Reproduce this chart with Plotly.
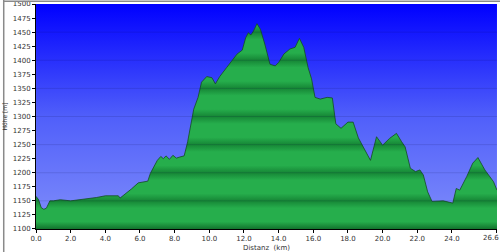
import plotly.graph_objects as go

dist_km = [0.0, 0.15, 0.3, 0.45, 0.6, 0.8, 1.0, 1.4, 2.0, 2.5, 3.0, 3.5, 4.0, 4.5, 4.75, 4.85,
           5.2, 5.5, 5.9, 6.2, 6.45, 6.6, 6.8, 7.0, 7.2, 7.35, 7.5, 7.7, 7.9, 8.1, 8.3, 8.55,
           8.75, 8.9, 9.1, 9.35, 9.55, 9.85, 10.15, 10.35, 10.6, 11.0, 11.3, 11.6, 11.9, 12.1,
           12.25, 12.4, 12.55, 12.75, 12.95, 13.2, 13.5, 13.8, 14.0, 14.3, 14.65, 14.95, 15.2,
           15.45, 15.7, 15.9, 16.1, 16.4, 16.8, 17.1, 17.3, 17.6, 18.0, 18.3, 18.6, 18.9, 19.3,
           19.65, 20.0, 20.4, 20.8, 21.1, 21.3, 21.6, 21.9, 22.15, 22.35, 22.6, 22.85, 23.5,
           24.05, 24.25, 24.45, 24.85, 25.2, 25.5, 25.9, 26.4, 26.6]
elev_m = [1158, 1152, 1138, 1135, 1137, 1150, 1150, 1152, 1150, 1152, 1153, 1156, 1159, 1159, 1159, 1155,
          1163, 1171, 1182, 1184, 1185, 1199, 1212, 1222, 1229, 1225, 1230, 1224, 1231, 1226, 1228, 1230,
          1255, 1282, 1313, 1334, 1361, 1371, 1369, 1358, 1371, 1387, 1399, 1411, 1418, 1440,
          1449, 1445, 1452, 1465, 1455, 1429, 1393, 1390, 1396, 1411, 1420, 1423, 1439,
          1423, 1387, 1367, 1334, 1331, 1334, 1333, 1287, 1279, 1290, 1290, 1262, 1246, 1222,
          1264, 1249, 1261, 1270, 1255, 1246, 1208, 1202, 1205, 1196, 1166, 1149, 1150,
          1146, 1172, 1169, 1193, 1217, 1227, 1205, 1184, 1169]

y_min, y_max = 1100, 1500
x_max = 26.6
y_ticks = list(range(1100, 1501, 25))
x_ticks = [0, 2, 4, 6, 8, 10, 12, 14, 16, 18, 20, 22, 24, 26.6]
x_labels = ["0.0", "2.0", "4.0", "6.0", "8.0", "10.0", "12.0", "14.0", "16.0", "18.0",
            "20.0", "22.0", "24.0", ""]
end_label = "26.6"

# green banded colorscale: darker at every 50 m
dark, light = "rgb(22,134,54)", "rgb(38,174,76)"
gscale = []
for base in range(y_min, y_max, 50):
    f = lambda v: (v - y_min) / (y_max - y_min)
    gscale.append([f(base), dark])
    gscale.append([f(base + 13), light])
    gscale.append([f(base + 37), light])
gscale.append([1.0, dark])
gscale[0] = [0.0, "rgb(18,115,45)"]

fig = go.Figure()
# blue gradient background
fig.add_trace(go.Scatter(
    x=[0, x_max, x_max, 0, 0], y=[y_min, y_min, y_max, y_max, y_min],
    mode="none", fill="toself",
    fillgradient=dict(type="vertical", start=y_min, stop=y_max,
                      colorscale=[[0, "rgb(128,142,250)"], [0.5, "rgb(80,95,250)"], [1, "rgb(0,0,255)"]]),
    hoverinfo="skip", showlegend=False))
fig.add_trace(go.Scatter(
    x=dist_km, y=elev_m, mode="lines", fill="tozeroy",
    line=dict(color="rgb(20,75,35)", width=0.8),
    fillgradient=dict(type="vertical", start=y_min, stop=y_max, colorscale=gscale),
    showlegend=False))

for v in range(y_min + 50, y_max, 50):
    fig.add_shape(type="line", xref="x", yref="y", x0=0, x1=x_max, y0=v, y1=v,
                  line=dict(color="rgba(0,0,60,0.12)", width=1), layer="above")

# outer border (left/top)
fig.add_shape(type="line", xref="paper", yref="paper", x0=-0.07, x1=-0.07, y0=-0.2, y1=1.02,
              line=dict(color="#8a8a8a", width=1.5))
fig.add_shape(type="line", xref="paper", yref="paper", x0=-0.07, x1=1.01, y0=1.012, y1=1.012,
              line=dict(color="#8a8a8a", width=1.5))

font = dict(family="DejaVu Sans", size=7, color="#333333")
fig.add_annotation(x=x_max, xref="x", y=0, yref="paper", text=end_label, showarrow=False,
                   xanchor="center", yanchor="top", xshift=-6, yshift=-3, font=font)

fig.update_layout(
    width=500, height=252,
    margin=dict(l=36, r=3, t=4, b=23),
    paper_bgcolor="white", plot_bgcolor="white",
    font=font,
    xaxis=dict(range=[-0.001, x_max + 0.001], tickvals=x_ticks, ticktext=x_labels, showgrid=False,
               zeroline=False, showline=True, linecolor="black", linewidth=1, automargin=False,
               ticks="outside", ticklen=3, tickcolor="black", tickfont=font,
               title=dict(text="Distanz  (km)", font=font, standoff=3)),
    yaxis=dict(range=[y_min - 0.05, y_max + 0.05], tickvals=y_ticks, showgrid=False, zeroline=False,
               showline=True, linecolor="black", linewidth=1, automargin=False,
               ticks="outside", ticklen=3, tickcolor="black", tickfont=font,
               ticklabeloverflow="allow",
               title=dict(text="Höhe [m]", font=dict(family="DejaVu Sans", size=6, color="#333333"),
                          standoff=4)),
)

fig.write_html("out.html")
